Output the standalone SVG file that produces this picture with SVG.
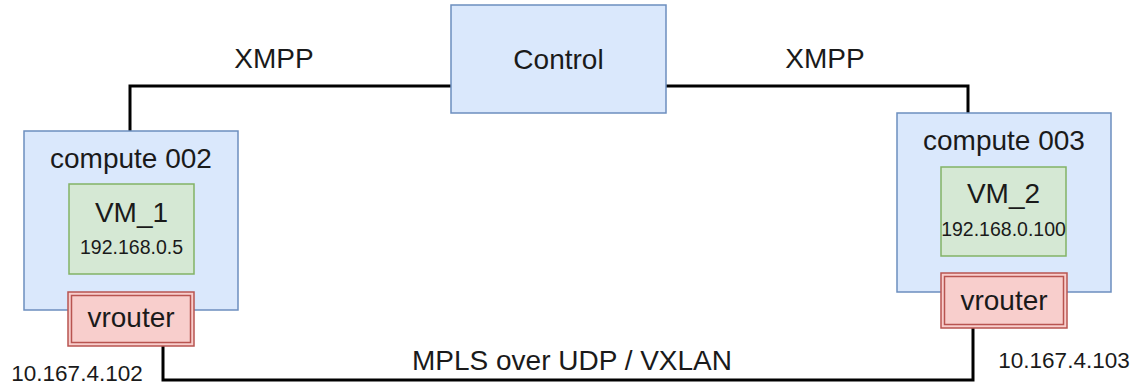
<svg xmlns="http://www.w3.org/2000/svg" width="1138" height="387" viewBox="0 0 1138 387">
<style>
text{font-family:"Liberation Sans",Arial,sans-serif;fill:#1a1a1a;text-anchor:middle}
.blue{fill:#dae8fc;stroke:#6c8ebf;stroke-width:1.5}
.green{fill:#d5e8d4;stroke:#82b366;stroke-width:1.5}
.red{fill:#f8cecc;stroke:#b85450;stroke-width:1.5}
.conn{fill:none;stroke:#000;stroke-width:3}
.big{font-size:28px}
.ip{font-size:19.5px}
.addr{font-size:22.5px}
</style>
<rect width="1138" height="387" fill="#fff"/>
<g id="connectors">
<path class="conn" d="M130,131 V86 H451"/>
<path class="conn" d="M666,86 H968 V113"/>
<path class="conn" d="M163,346 V380 H973 V328"/>
</g>
<g id="control">
<rect class="blue" x="451" y="5" width="215" height="108"/>
<text class="big" x="558.5" y="69">Control</text>
</g>
<g id="compute002">
<rect class="blue" x="24" y="131" width="214" height="179"/>
<text class="big" x="131" y="168">compute 002</text>
</g>
<g id="vm1">
<rect class="green" x="69" y="184" width="125" height="90"/>
<text class="big" x="131.5" y="222">VM_1</text>
<text class="ip" x="131.5" y="254">192.168.0.5</text>
</g>
<g id="vrouter1">
<rect class="red" x="68" y="292" width="126" height="54"/>
<rect x="71.5" y="295.5" width="119" height="47" fill="none" stroke="#b85450" stroke-width="1.5"/>
<text class="big" x="131" y="327">vrouter</text>
</g>
<g id="compute003">
<rect class="blue" x="897" y="113" width="214" height="179"/>
<text class="big" x="1004" y="150">compute 003</text>
</g>
<g id="vm2">
<rect class="green" x="941" y="167" width="125" height="89"/>
<text class="big" x="1003.5" y="203">VM_2</text>
<text class="ip" x="1003.5" y="236">192.168.0.100</text>
</g>
<g id="vrouter2">
<rect class="red" x="941" y="273" width="126" height="55"/>
<rect x="944.5" y="276.5" width="119" height="48" fill="none" stroke="#b85450" stroke-width="1.5"/>
<text class="big" x="1004" y="310">vrouter</text>
</g>
<g id="labels">
<text class="big" x="274" y="68">XMPP</text>
<text class="big" x="825" y="68">XMPP</text>
<text class="big" x="572" y="370">MPLS over UDP / VXLAN</text>
<text class="addr" x="77" y="381">10.167.4.102</text>
<text class="addr" x="1064" y="368">10.167.4.103</text>
</g>
</svg>
